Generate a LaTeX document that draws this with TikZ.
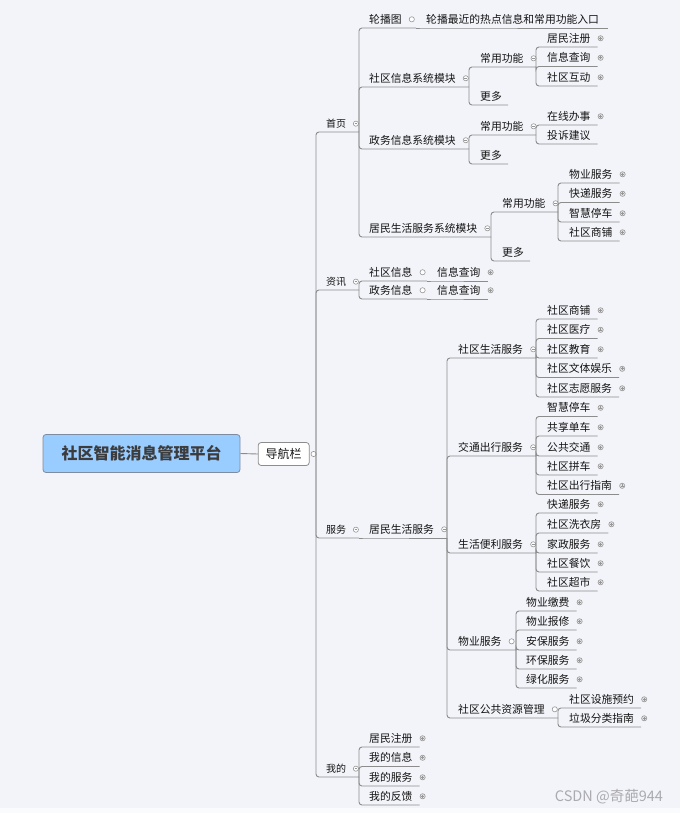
\documentclass[tikz,border=0pt]{standalone}
\usepackage{fontspec}
\setmainfont{Noto Sans CJK SC}

\definecolor{bgcol}{RGB}{243,244,249}
\definecolor{linecol}{RGB}{140,140,140}
\definecolor{markcol}{RGB}{150,150,150}
\definecolor{markfill}{RGB}{228,228,228}
\definecolor{txtcol}{RGB}{20,20,20}
\definecolor{roottxt}{RGB}{60,60,60}
\definecolor{rootfill}{RGB}{153,204,255}
\definecolor{rootline}{RGB}{125,140,160}
\definecolor{wmcol}{RGB}{170,170,175}

\begin{document}
\begin{tikzpicture}[x=1pt, y=-1pt,
  topic/.style={anchor=south west, inner xsep=0pt, inner ysep=3.5pt, text=txtcol,
    font=\fontsize{10.8}{13}\selectfont},
  maintopic/.style={topic, font=\fontsize{10}{12}\selectfont},
  rootbox/.style={draw=rootline, fill=rootfill, rounded corners=3pt, line width=0.8pt,
    minimum width=197pt, minimum height=38pt, text=roottxt,
    font=\fontsize{16}{18}\selectfont\bfseries},
  navbox/.style={draw=linecol, fill=white, rounded corners=3pt, line width=0.8pt,
    minimum width=51pt, minimum height=23pt, text=txtcol, font=\fontsize{12}{14}\selectfont},
  branch/.style={draw=linecol, line width=0.9pt, rounded corners=3pt},
  markline/.style={draw=markcol, line width=0.6pt},
  plusmark/.pic={\draw[markline, fill=markfill] (0,0) circle (2.6);
    \draw[markline] (-1.4,0) -- (1.4,0) (0,-1.4) -- (0,1.4);},
  minusmark/.pic={\draw[markline, fill=white] (0,0) circle (2.6);
    \draw[markline] (-1.4,0) -- (1.4,0);},
  openmark/.pic={\draw[markline, fill=white] (0,0) circle (2.6);}
]

% ---------- Tlo ----------
\fill[bgcol] (0,0) rectangle (680,813);
\fill[white!60!bgcol] (0,808) rectangle (680,813);
\useasboundingbox (0,0) rectangle (680,813);

% ---------- Korzen i pasek nawigacji ----------
\node[rootbox] (root) at (141.5,453.5) {社区智能消息管理平台};
\node[navbox] (nav) at (283.7,454) {导航栏};
\draw[branch] (root.east) -- (nav.west);
\pic at ([xshift=4pt]nav.east) {openmark};
\coordinate (s-nav) at (316,454);

% ---------- Poziom 1 ----------
\foreach \t/\y/\k in {首页/132/sy, 资讯/290/zx, 服务/538/fw, 我的/777/wd} {
  \node[maintopic] (\k) at (326,\y) {\t};
  \coordinate (s-\k) at (359,\y);
  \draw[branch] (s-nav) |- (\k.south west) -- (s-\k);
  \pic at ([xshift=9.5pt]\k.east) {minusmark};
}

% ---------- Strona glowna ----------
\node[topic] (lbt) at (369,28) {轮播图};
\coordinate (s-lbt) at (416,28);
\draw[branch] (s-sy) |- (lbt.south west) -- (s-lbt);
\pic at ([xshift=10pt]lbt.east) {openmark};
\node[topic] (lbtx) at (426,28) {轮播最近的热点信息和常用功能入口};
\draw[branch] (s-lbt) -- (lbtx.south west) -- ([xshift=9pt]lbtx.south east);

% moduly: nazwa / y / id / x kregoslupa
\foreach \t/\y/\k/\sx in {社区信息系统模块/87/sqmk/469, 政务信息系统模块/149/zwmk/469,
    居民生活服务系统模块/237/jmmk/491} {
  \node[topic] (\k) at (369,\y) {\t};
  \coordinate (s-\k) at (\sx,\y);
  \draw[branch] (s-sy) |- (\k.south west) -- (s-\k);
  \pic at ([xshift=10pt]\k.east) {minusmark};
}

% common functions + more under each module
\foreach \p/\x/\ya/\yb/\sx/\k in {sqmk/480/67/105/536/cya, zwmk/480/135/164/536/cyb,
    jmmk/502/212/261/558/cyc} {
  \node[topic] (\k) at (\x,\ya) {常用功能};
  \coordinate (s-\k) at (\sx,\ya);
  \draw[branch] (s-\p) |- (\k.south west) -- (s-\k);
  \pic at ([xshift=10pt]\k.east) {minusmark};
  \node[topic] (gd-\k) at (\x,\yb) {更多};
  \draw[branch] (s-\p) |- (gd-\k.south west) -- ([xshift=6pt]gd-\k.south east);
}

% ---------- Zakladka: informacje ----------
\foreach \t/\y/\k in {社区信息/281/zxa, 政务信息/299/zxb} {
  \node[topic] (\k) at (369,\y) {\t};
  \coordinate (s-\k) at (427,\y);
  \draw[branch] (s-zx) |- (\k.south west) -- (s-\k);
  \pic at ([xshift=10pt]\k.east) {openmark};
  \node[topic] (\k-1) at (437,\y) {信息查询};
  \draw[branch] (s-\k) -- (\k-1.south west) -- ([xshift=7pt]\k-1.south east);
  \pic at ([xshift=10pt]\k-1.east) {plusmark};
}

% ---------- Zakladka: uslugi ----------
\node[topic] (jmfw) at (369,538) {居民生活服务};
\coordinate (s-jmfw) at (447,538);
\draw[branch] (s-fw) -- (jmfw.south west) -- (s-jmfw);
\pic at ([xshift=10pt]jmfw.east) {minusmark};

\foreach \t/\y/\k/\sx in {社区生活服务/358/sh/536, 交通出行服务/456/jt/536,
    生活便利服务/553/bl/536, 物业服务/650/wy/516, 社区公共资源管理/718/gg/558} {
  \node[topic] (\k) at (458,\y) {\t};
  \coordinate (s-\k) at (\sx,\y);
  \draw[branch] (s-jmfw) |- (\k.south west) -- (s-\k);
}
\foreach \k in {sh,jt,bl} \pic at ([xshift=10pt]\k.east) {minusmark};
\foreach \k in {wy,gg} \pic at ([xshift=10pt]\k.east) {openmark};

% ---------- Liscie (z plusem) ----------
\foreach \k/\x/\list in {
    cya/547/{居民注册/47, 信息查询/66.5, 社区互动/86},
    cyc/569/{物业服务/183, 快递服务/202.5, 智慧停车/222, 社区商铺/241},
    sh/547/{社区商铺/319, 社区医疗/338.5, 社区教育/358, 社区文体娱乐/377.5, 社区志愿服务/397},
    jt/547/{智慧停车/416.5, 共享单车/436, 公共交通/456, 社区拼车/475, 社区出行指南/494.5},
    bl/547/{快递服务/513, 社区洗衣房/533, 家政服务/553, 社区餐饮/572, 社区超市/591},
    wy/526/{物业缴费/611, 物业报修/630, 安保服务/650, 环保服务/669, 绿化服务/688},
    gg/569/{社区设施预约/708, 垃圾分类指南/727},
    wd/369/{居民注册/747, 我的信息/766.5, 我的服务/786, 我的反馈/805}} {
  \foreach \t/\y [count=\i] in \list {
    \node[topic] (\k-\i) at (\x,\y) {\t};
    \draw[branch] (s-\k) |- (\k-\i.south west) -- ([xshift=7pt]\k-\i.south east);
    \pic at ([xshift=10pt]\k-\i.east) {plusmark};
  }
}

% sprawy urzedowe: jeden lisc bez znacznika
\node[topic] (cyb-1) at (547,125) {在线办事};
\draw[branch] (s-cyb) |- (cyb-1.south west) -- ([xshift=7pt]cyb-1.south east);
\pic at ([xshift=10pt]cyb-1.east) {plusmark};
\node[topic] (cyb-2) at (547,144) {投诉建议};
\draw[branch] (s-cyb) |- (cyb-2.south west) -- ([xshift=7pt]cyb-2.south east);

% ---------- Znak wodny ----------
\node[text=wmcol, font=\fontsize{14.5}{16}\selectfont] (wm) at (609,797) {CSDN @奇葩944};

\end{tikzpicture}
\end{document}
